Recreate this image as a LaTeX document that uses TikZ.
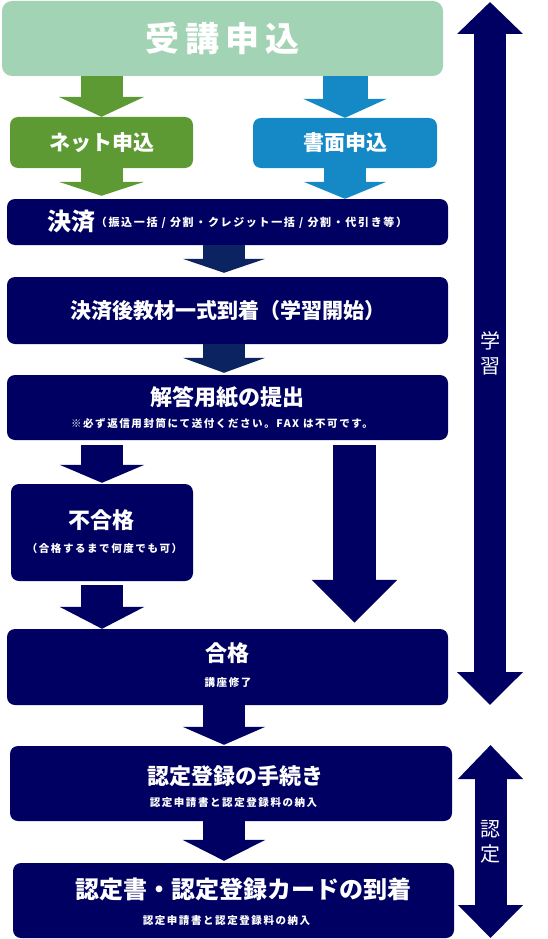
\documentclass[tikz,border=0pt]{standalone}
\usepackage{fontspec}
\setmainfont{Noto Sans CJK JP}
\newfontfamily\subfont{Noto Sans CJK JP}[LetterSpace=15]
\usetikzlibrary{arrows.meta,calc}
\definecolor{applyF}{HTML}{A2D3B5}
\definecolor{netF}{HTML}{5E9A34}
\definecolor{paperF}{HTML}{1489C6}
\definecolor{navyF}{HTML}{000062}
\definecolor{navyA}{HTML}{0B2360}
\tikzset{
 box/.style={rounded corners=8pt, inner sep=0pt, text=white, font=\bfseries\fontsize{21}{24}\selectfont},
 ttl/.style={text=white, inner sep=0pt, font=\bfseries\fontsize{22}{26}\selectfont},
 sub/.style={text=white, inner sep=0pt, font=\subfont\bfseries\fontsize{10.5}{13}\selectfont},
 fat/.style n args={4}{draw=#1, line width=#2, -{Triangle[width=#3, length=#4]}},
 span/.style n args={3}{draw=navyF, line width=32pt, {Triangle[width=#1, length=#2]}-{Triangle[width=#1, length=#3]}},
}

\begin{document}
\begin{tikzpicture}[x=1pt, y=-1pt]
\useasboundingbox (0,0) rectangle (547,939);
% application
\node[box, fill=applyF, rounded corners=10pt, minimum width=441pt, minimum height=75pt,
      font=\bfseries\fontsize{34}{40}\selectfont] (apply) at (222.5,38.5)
 {受\hspace{6pt}講\hspace{6pt}申\hspace{6pt}込};
\node[box, fill=netF, minimum width=183pt, minimum height=51pt] (net) at (101.5,142.5) {ネット申込};
\node[box, fill=paperF, minimum width=184pt, minimum height=50pt] (paper) at (345,143) {書面申込};
% payment and study
\node[box, fill=navyF, minimum width=441pt, minimum height=46pt] (pay) at (227.5,222)
 {{\fontsize{24}{28}\selectfont 決済}\raisebox{4pt}{\subfont\bfseries\fontsize{11}{13}\selectfont（振込一括 / 分割・クレジット一括 / 分割・代引き等）}};
\node[box, fill=navyF, minimum width=441pt, minimum height=67pt] (kit) at (227.5,310.5) {決済後教材一式到着（学習開始）};
\node[box, fill=navyF, minimum width=441pt, minimum height=65pt] (answer) at (227.5,407.5) {};
\node[ttl] (answerT) at (227.5,397) {解答用紙の提出};
\node[sub] (answerS) at (222,423) {※必ず返信用封筒にて送付ください。FAX は不可です。};
\node[box, fill=navyF, minimum width=182pt, minimum height=97pt] (fail) at (102,532.5) {};
\node[ttl] (failT) at (101,520) {不合格};
\node[sub] (failS) at (104.5,549) {（合格するまで何度でも可）};
\node[box, fill=navyF, minimum width=441pt, minimum height=76pt] (pass) at (227.5,667) {};
\node[ttl] (passT) at (227.5,653) {合格};
\node[sub] (passS) at (228,683) {講座修了};
% certification
\node[box, fill=navyF, minimum width=442pt, minimum height=75pt] (proc) at (231,783.5) {};
\node[ttl] (procT) at (235,776) {認定登録の手続き};
\node[sub] (procS) at (233.5,803) {認定申請書と認定登録料の納入};
\node[box, fill=navyF, minimum width=441pt, minimum height=75pt] (card) at (233.5,900.5) {};
\node[ttl, font=\bfseries\fontsize{24}{28}\selectfont] (cardT) at (243.5,889) {認定書・認定登録カードの到着};
\node[sub] (cardS) at (226.5,921) {認定申請書と認定登録料の納入};
% arrows
\coordinate (spine) at (224,0);
\coordinate (rcol) at (354.5,0);
\draw[fat={netF}{42pt}{85pt}{20pt}] (apply.south -| net.north) -- (net.north);
\draw[fat={netF}{42pt}{85pt}{14pt}, shorten >=3pt] (net.south) -- (net.south |- pay.north);
\draw[fat={paperF}{45pt}{83pt}{19pt}] (apply.south -| paper.north) -- (paper.north);
\draw[fat={paperF}{42pt}{82pt}{17pt}] (paper.south) -- (paper.south |- pay.north);
\draw[fat={navyA}{42pt}{82pt}{14pt}, shorten >=4pt] (spine |- pay.south) -- (spine |- kit.north);
\draw[fat={navyA}{42pt}{82pt}{15pt}, shorten >=2pt] (spine |- kit.south) -- (spine |- answer.north);
\draw[fat={navyF}{42pt}{84pt}{18pt}, shorten <=5pt, shorten >=1pt] (answer.south -| fail.north) -- (fail.north);
\draw[fat={navyF}{42pt}{84pt}{22pt}, shorten <=4pt] (fail.south) -- (fail.south |- pass.north);
\draw[fat={navyF}{43pt}{83pt}{43pt}, shorten <=5pt, shorten >=6pt] (rcol |- answer.south) -- (rcol |- pass.north);
\draw[fat={navyF}{42pt}{82pt}{18pt}, shorten >=1pt] (spine |- pass.south) -- (spine |- proc.north);
\draw[fat={navyF}{42pt}{82pt}{21pt}, shorten >=2pt] (spine |- proc.south) -- (spine |- card.north);
% phases
\coordinate (lrnTop) at (490,2);
\coordinate (lrnBot) at (490,705);
\coordinate (certTop) at (490.5,745);
\coordinate (certBot) at (490.5,938);
\draw[span={64pt}{32pt}{33pt}] (lrnTop) -- (lrnBot)
 node[midway, text=white, align=center, font=\fontsize{20}{25}\selectfont] (lrn) {学\\習};
\draw[span={63pt}{34pt}{33pt}] (certTop) -- (certBot)
 node[midway, text=white, align=center, font=\fontsize{20}{25}\selectfont] (cert) {認\\定};
\end{tikzpicture}
\end{document}
